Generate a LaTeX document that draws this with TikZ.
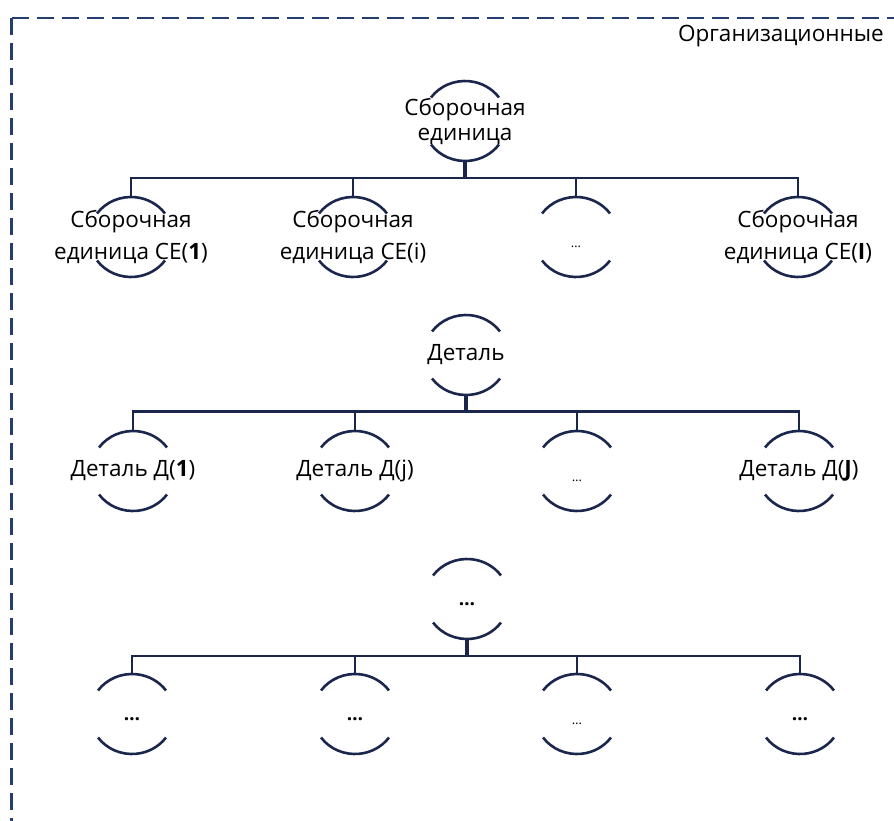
\documentclass[tikz,border=0pt]{standalone}
\usepackage{fontspec}
\setmainfont{Open Sans}
\definecolor{navy}{RGB}{26,38,76}
\definecolor{frameblue}{RGB}{36,62,112}
\tikzset{
  unit/.style={rectangle, minimum width=84pt, minimum height=80pt, inner sep=0pt, align=center, text=black},
  lblA/.style={font=\fontsize{22.5}{25}\selectfont},
  lblB/.style={font=\fontsize{22.5}{32}\selectfont},
  dotsmall/.style={font=\fontsize{13}{13}\selectfont, text height=21pt, text depth=0pt},
  dotbold/.style={font=\fontsize{19}{19}\selectfont\bfseries, text height=13pt, text depth=0pt},
  arcline/.style={draw=navy, line width=2.6pt},
  busline/.style={draw=navy, line width=2.7pt, line join=miter},
  stem/.style={draw=navy, line width=3.8pt},
  dropline/.style={draw=navy, line width=2.5pt},
  framed/.style={draw=frameblue, line width=2.8pt, dash pattern=on 17pt off 8pt},
}
\begin{document}
\begin{tikzpicture}[x=1pt,y=1pt]
\useasboundingbox (0,0) rectangle (894,-821);
\clip (0,0) rectangle (894,-821);

% dashed frame
\draw[framed] (11.7,-18) -- (11.7,-840);
\draw[framed] (11.7,-18) -- (910,-18);
\node[lblA, anchor=east, inner sep=0pt] (title) at (884,-36) {Организационные};

% assembly units
\node[unit,lblA] (a0) at (465,-121) {Сборочная\\единица};
\node[unit,lblB] (a1) at (131,-237) {Сборочная\\единица СЕ(\textbf{1})};
\node[unit,lblB] (a2) at (353,-237) {Сборочная\\единица СЕ(i)};
\node[unit,dotsmall] (a3) at (576,-237) {…};
\node[unit,lblB] (a4) at (798,-237) {Сборочная\\единица СЕ(\textbf{I})};

% parts
\node[unit,lblA] (b0) at (466,-355) {Деталь};
\node[unit,lblA] (b1) at (133,-471) {Деталь Д(\textbf{1})};
\node[unit,lblA] (b2) at (355,-471) {Деталь Д(j)};
\node[unit,dotsmall] (b3) at (577,-471) {…};
\node[unit,lblA] (b4) at (799,-471) {Деталь Д(\textbf{J})};

% further levels
\node[unit,dotbold] (c0) at (467,-599) {…};
\node[unit,dotbold] (c1) at (132,-714) {…};
\node[unit,dotbold] (c2) at (355,-714) {…};
\node[unit,dotsmall] (c3) at (577,-714) {…};
\node[unit,dotbold] (c4) at (800,-714) {…};

% arcs above and below each unit
\foreach \n in {a0,a1,a2,a3,a4,b0,b1,b2,b3,b4,c0,c1,c2,c3,c4}{
  \draw[arcline] ([shift={(144:42pt and 40pt)}]\n.center)
    arc[start angle=144, end angle=36, x radius=42pt, y radius=40pt];
  \draw[arcline] ([shift={(216:42pt and 40pt)}]\n.center)
    arc[start angle=216, end angle=324, x radius=42pt, y radius=40pt];
}

% bus lines
\coordinate (busA) at (0,-178);
\coordinate (busB) at (0,-411.5);
\coordinate (busC) at (0,-656);

\draw[busline] (a1.north) -- (a1.north |- busA) -- (a4.north |- busA) -- (a4.north);
\draw[dropline] (a2.north) -- (a2.north |- busA);
\draw[dropline] (a3.north) -- (a3.north |- busA);
\draw[stem] (a0.south) -- (a0.south |- busA);

\draw[busline] (b1.north) -- (b1.north |- busB) -- (b4.north |- busB) -- (b4.north);
\draw[dropline] (b2.north) -- (b2.north |- busB);
\draw[dropline] (b3.north) -- (b3.north |- busB);
\draw[stem] (b0.south) -- (b0.south |- busB);

\draw[busline] (c1.north) -- (c1.north |- busC) -- (c4.north |- busC) -- (c4.north);
\draw[dropline] (c2.north) -- (c2.north |- busC);
\draw[dropline] (c3.north) -- (c3.north |- busC);
\draw[stem] (c0.south) -- (c0.south |- busC);
\end{tikzpicture}
\end{document}
